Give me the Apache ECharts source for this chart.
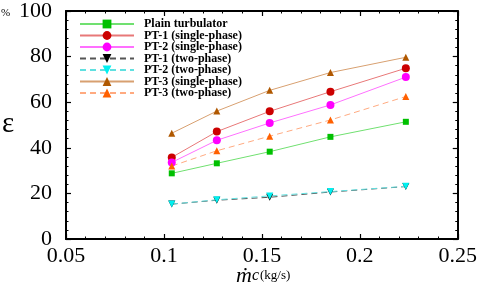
<!DOCTYPE html>
<html>
<head>
<meta charset="utf-8">
<script src="https://cdn.jsdelivr.net/npm/echarts@6/dist/echarts.min.js"></script>
<style>html,body{margin:0;padding:0;background:#fff}#c{width:480px;height:289px}</style>
</head>
<body>
<div id="c"></div>
<script>
const xVals = [0.104, 0.127, 0.154, 0.185, 0.2235];
const plain = [28.8, 33.2, 38.3, 44.8, 51.4];
const pt1Single = [35.8, 47.1, 56.0, 64.6, 74.9];
const pt2Single = [33.6, 43.3, 50.9, 58.8, 71.0];
const pt1Two = [15.3, 17.0, 18.3, 20.6, 23.0];
const pt2Two = [15.3, 17.2, 18.9, 20.8, 23.1];
const pt3Single = [46.4, 56.1, 65.2, 73.0, 79.7];
const pt3Two = [32.0, 38.7, 45.1, 52.2, 62.5];
const xTicks = ['0.05', '0.1', '0.15', '0.2', '0.25'];
const yTicks = ['0', '20', '40', '60', '80', '100'];

function pairs(ys) { return xVals.map((x, i) => [x, ys[i]]); }
function mk(name, ys, symbol, size, mcol, lcol, dashed, rot) {
  return {
    name, type: 'line', data: pairs(ys), symbol, symbolSize: size, symbolRotate: rot || 0,
    itemStyle: { color: mcol },
    lineStyle: { color: lcol, width: 1, type: dashed ? [6, 4] : 'solid' },
    emphasis: { disabled: true }, animation: false
  };
}
const serif = '"Liberation Serif", "DejaVu Serif", serif';
const axisCommon = {
  axisLine: { show: true, onZero: false, lineStyle: { color: '#000', width: 2 } },
  axisTick: { show: true, inside: true, length: 5, lineStyle: { color: '#000', width: 1.2 } },
  minorTick: { show: true, splitNumber: 5, length: 2.5, lineStyle: { color: '#000', width: 1 } },
  splitLine: { show: false }
};
const chart = echarts.init(document.getElementById('c'));
chart.setOption({
  animation: false,
  grid: { left: 66, right: 21, top: 9, bottom: 50 },
  xAxis: [
    Object.assign({ type: 'value', min: 0.05, max: 0.25, interval: 0.05, position: 'bottom',
      axisLabel: { fontFamily: serif, fontSize: 22, color: '#000', margin: 6,
        formatter: v => { const i = Math.round((v - 0.05) / 0.05); return xTicks[i] ?? ''; } } }, axisCommon),
    Object.assign({ type: 'value', min: 0.05, max: 0.25, interval: 0.05, position: 'top',
      axisLabel: { show: false } }, axisCommon)
  ],
  yAxis: [
    Object.assign({ type: 'value', min: 0, max: 100, interval: 20, position: 'left',
      axisLabel: { fontFamily: serif, fontSize: 22, color: '#000', margin: 14,
        formatter: v => yTicks[Math.round(v / 20)] ?? '' } }, axisCommon),
    Object.assign({ type: 'value', min: 0, max: 100, interval: 20, position: 'right',
      axisLabel: { show: false } }, axisCommon)
  ],
  legend: {
    orient: 'vertical', left: 74, top: 13, itemWidth: 54, itemHeight: 11, itemGap: -0.5,
    textStyle: { fontFamily: serif, fontWeight: 'bold', fontSize: 12, color: '#000', lineHeight: 11.7, padding: [0, 0, 0, 5] },
    data: ['Plain turbulator', 'PT-1 (single-phase)', 'PT-2 (single-phase)', 'PT-1 (two-phase)',
      'PT-2 (two-phase)', 'PT-3 (single-phase)', 'PT-3 (two-phase)']
  },
  series: [
    mk('Plain turbulator', plain, 'rect', 6, '#00c000', '#70e070', false),
    mk('PT-1 (single-phase)', pt1Single, 'circle', 8, '#cc0000', '#e87878', false),
    mk('PT-2 (single-phase)', pt2Single, 'circle', 8, '#ff00ff', '#ff70ff', false),
    mk('PT-1 (two-phase)', pt1Two, 'triangle', 7, '#000000', '#555555', true, 180),
    mk('PT-2 (two-phase)', pt2Two, 'triangle', 7, '#00f0f0', '#60e0e0', true, 180),
    mk('PT-3 (single-phase)', pt3Single, 'triangle', 7, '#b05800', '#d8a070', false),
    mk('PT-3 (two-phase)', pt3Two, 'triangle', 7, '#ff6000', '#ffaa80', true)
  ],
  graphic: [
    { type: 'text', left: 1, top: 8, style: { text: '%', fontFamily: serif, fontSize: 11, fill: '#000' } },
    { type: 'text', left: 2, top: 110, style: { text: 'ε', fontFamily: serif, fontSize: 29, fill: '#000' } },
    { type: 'text', left: 236, top: 265, style: {
      text: '{m|ṁ}{c|c}{u|(kg/s)}', fontFamily: serif, fill: '#000',
      rich: { m: { fontFamily: serif, fontStyle: 'italic', fontSize: 22 },
              c: { fontFamily: serif, fontStyle: 'italic', fontSize: 16, padding: [0, 1, 0, 0] },
              u: { fontFamily: serif, fontSize: 13 } } } }
  ]
});
</script>
</body>
</html>
